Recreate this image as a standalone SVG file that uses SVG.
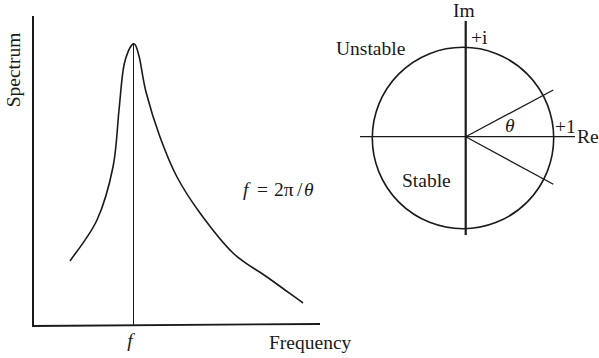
<svg xmlns="http://www.w3.org/2000/svg" width="599" height="358" viewBox="0 0 599 358">
<style>
text{font-family:"Liberation Serif","Times New Roman",serif;font-size:19.5px;fill:#1a1a1a}
.it{font-style:italic}
.ln{stroke:#1a1a1a;fill:none}
</style>
<rect width="599" height="358" fill="#fff"/>
<g id="spectrum-plot">
<line class="ln" x1="33" y1="16" x2="33" y2="326.5" stroke-width="2"/>
<line class="ln" x1="32" y1="326" x2="320" y2="324" stroke-width="1.8"/>
<line class="ln" x1="133.5" y1="44" x2="133.5" y2="325" stroke-width="1"/>
<path class="ln" stroke-width="1.6" d="M70,261 C74.5,254.2 89.8,235.7 97,220 C104.2,204.3 109.3,185.3 113,167 C116.7,148.7 117.2,127 119,110 C120.8,93 121.7,76 124,65 C126.3,54 130.5,45.5 133,44 C135.5,42.5 136.8,48 139,56 C141.2,64 142.5,78.5 146,92 C149.5,105.5 154.8,122.8 160,137 C165.2,151.2 170.3,164.3 177,177 C183.7,189.7 190.7,200.3 200,213 C209.3,225.7 221.8,242.3 233,253 C244.2,263.7 255.3,268.7 267,277 C278.7,285.3 297,298.7 303,303"/>
<text transform="translate(20,70) rotate(-90)" text-anchor="middle">Spectrum</text>
<text x="269" y="349">Frequency</text>
<text class="it" x="130" y="347" text-anchor="middle">f</text>
<text y="196"><tspan class="it" x="243">f</tspan><tspan x="257">=</tspan><tspan x="274">2π</tspan><tspan x="297">/</tspan><tspan class="it" x="304">θ</tspan></text>
</g>
<g id="unit-circle">
<circle class="ln" cx="463" cy="138" r="90.7" stroke-width="1.6"/>
<line class="ln" x1="360" y1="136.7" x2="575" y2="136.7" stroke-width="1.3"/>
<line class="ln" x1="465.7" y1="21" x2="465.7" y2="235" stroke-width="2.2"/>
<line class="ln" x1="465.7" y1="136.7" x2="553.3" y2="90" stroke-width="1.3"/>
<line class="ln" x1="465.7" y1="136.7" x2="553.3" y2="184.3" stroke-width="1.3"/>
<text x="453" y="17">Im</text>
<text x="471" y="44">+i</text>
<text x="336" y="55">Unstable</text>
<text x="402" y="187">Stable</text>
<text class="it" x="505" y="132">θ</text>
<text x="555" y="133">+1</text>
<text x="577" y="143">Re</text>
</g>
</svg>
